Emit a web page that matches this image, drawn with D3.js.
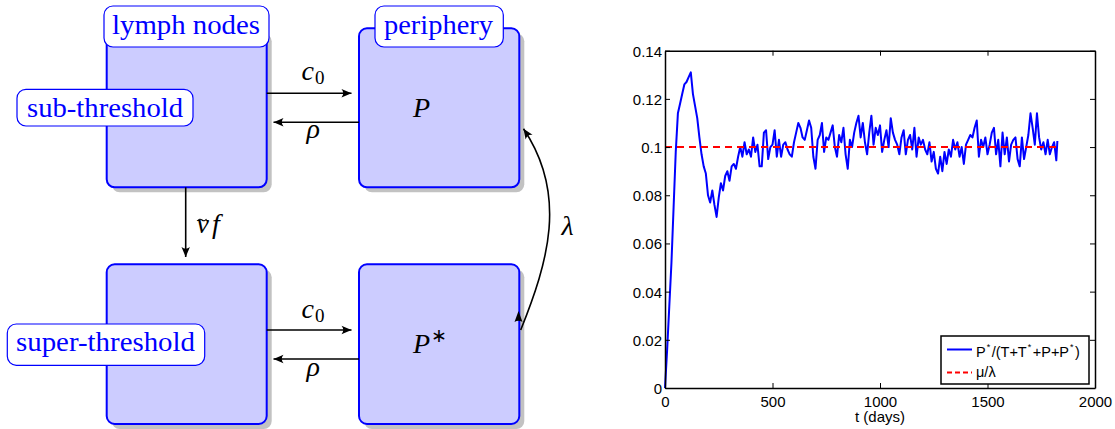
<!DOCTYPE html>
<html>
<head>
<meta charset="utf-8">
<script src="https://cdn.jsdelivr.net/npm/d3@7"></script>
<style>
  body { margin: 0; background: #fff; }
  svg { display: block; }
  .ser { font-family: 'Liberation Serif'; }
  .san { font-family: 'Liberation Sans'; }
</style>
</head>
<body>
<script>
// ---------------- DATA ----------------
const days = [0,10,20,30,40,50,60,70,80,90,100,110,120,130,140,150,160,170,180,190,
  200,210,220,230,240,250,260,270,280,290,300,310,320,330,340,350,360,370,380,390,
  400,410,420,430,440,450,460,470,480,490,500,510,520,530,540,550,560,570,580,590,
  600,610,620,630,640,650,660,670,680,690,700,710,720,730,740,750,760,770,780,790,
  800,810,820,830,840,850,860,870,880,890,900,910,920,930,940,950,960,970,980,990,
  1000,1010,1020,1030,1040,1050,1060,1070,1080,1090,1100,1110,1120,1130,1140,1150,1160,1170,1180,1190,
  1200,1210,1220,1230,1240,1250,1260,1270,1280,1290,1300,1310,1320,1330,1340,1350,1360,1370,1380,1390,
  1400,1410,1420,1430,1440,1450,1460,1470,1480,1490,1500,1510,1520,1530,1540,1550,1560,1570,1580,1590,
  1600,1610,1620,1630,1640,1650,1660,1670,1680,1690,1700,1710,1720,1730,1740,1750,1760,1770,1780,1790,
  1800,1810,1820,1825];
const ratio = [0,0.016,0.034,0.052,0.075,0.098,0.114,0.118,0.122,0.126,0.127,0.129,0.131,0.122,0.117,0.112,0.104,0.097,0.092,0.089,
  0.080,0.077,0.082,0.076,0.071,0.079,0.085,0.082,0.088,0.090,0.086,0.092,0.093,0.091,0.096,0.100,0.096,0.102,0.097,0.099,
  0.096,0.104,0.098,0.101,0.092,0.092,0.106,0.107,0.095,0.100,0.101,0.107,0.096,0.103,0.096,0.101,0.102,0.099,0.097,0.096,
  0.102,0.106,0.110,0.108,0.104,0.103,0.107,0.111,0.108,0.096,0.091,0.103,0.105,0.110,0.098,0.104,0.103,0.106,0.109,0.100,
  0.096,0.105,0.102,0.108,0.097,0.091,0.103,0.100,0.106,0.110,0.113,0.104,0.110,0.102,0.097,0.106,0.113,0.101,0.108,0.105,
  0.109,0.098,0.103,0.107,0.100,0.112,0.106,0.103,0.101,0.097,0.104,0.107,0.097,0.103,0.105,0.099,0.108,0.096,0.104,0.101,
  0.103,0.099,0.097,0.102,0.094,0.098,0.091,0.089,0.096,0.090,0.098,0.093,0.099,0.096,0.103,0.099,0.102,0.096,0.100,0.093,
  0.101,0.103,0.105,0.104,0.108,0.111,0.096,0.103,0.100,0.104,0.097,0.101,0.106,0.108,0.097,0.103,0.092,0.106,0.097,0.104,
  0.094,0.101,0.103,0.104,0.095,0.092,0.104,0.095,0.100,0.105,0.114,0.108,0.101,0.114,0.104,0.099,0.102,0.097,0.103,0.097,
  0.100,0.102,0.0945,0.1025];
const muOverLambda = 0.1;
const refDays = [0, 1825];
const xTicks = [0, 500, 1000, 1500, 2000];
const xTickLabels = ["0", "500", "1000", "1500", "2000"];
const yTicks = [0, 0.02, 0.04, 0.06, 0.08, 0.1, 0.12, 0.14];
const yTickLabels = ["0", "0.02", "0.04", "0.06", "0.08", "0.1", "0.12", "0.14"];
const xLabel = "t (days)";
const regionLabels = ["lymph nodes", "periphery", "sub-threshold", "super-threshold"];

// ---------------- SVG ----------------
const svg = d3.select("body").append("svg").attr("width", 1115).attr("height", 429);
const serif = "'Liberation Serif'";
const tickFont = "'Liberation Sans'";

// ========== DIAGRAM ==========
const defs = svg.append("defs");
defs.append("marker").attr("id", "arr").attr("markerUnits", "userSpaceOnUse")
  .attr("viewBox", "-11 -6 12 12").attr("refX", 0).attr("refY", 0)
  .attr("markerWidth", 12).attr("markerHeight", 12).attr("orient", "auto")
  .append("path").attr("d", "M0,0 L-10,-4.2 Q-6.5,0 -10,4.2 Z").attr("fill", "#000");

const dg = svg.append("g");
const boxes = [
  {x: 106.7, y: 28.3, w: 160, h: 159},
  {x: 359, y: 28.3, w: 160.3, h: 159},
  {x: 106.7, y: 264.3, w: 160, h: 159.7},
  {x: 359, y: 264.3, w: 160.3, h: 159.7}
];
dg.selectAll("rect.shadow").data(boxes).join("rect").attr("class", "shadow")
  .attr("x", d => d.x + 5).attr("y", d => d.y + 5).attr("width", d => d.w).attr("height", d => d.h)
  .attr("rx", 8).attr("fill", "#c2c2c2");
dg.selectAll("rect.box").data(boxes).join("rect").attr("class", "box")
  .attr("x", d => d.x).attr("y", d => d.y).attr("width", d => d.w).attr("height", d => d.h)
  .attr("rx", 8).attr("fill", "#ccccff").attr("stroke", "#0000ff").attr("stroke-width", 2);

// straight arrows
const arrows = [
  [266.7, 93.3, 351.5, 93.3],
  [359, 122.3, 273.5, 122.3],
  [266.7, 330, 351.5, 330],
  [359, 359, 273.5, 359],
  [185.7, 187.3, 185.7, 257]
];
dg.selectAll("line.arrow").data(arrows).join("line").attr("class", "arrow")
  .attr("x1", d => d[0]).attr("y1", d => d[1]).attr("x2", d => d[2]).attr("y2", d => d[3])
  .attr("stroke", "#000").attr("stroke-width", 1.6).attr("marker-end", "url(#arr)");

// curved lambda arrow
dg.append("path").attr("d", "M520.7,330 C548,262 568,195 523.5,128.8")
  .attr("fill", "none").attr("stroke", "#000").attr("stroke-width", 1.6).attr("marker-end", "url(#arr)");
dg.append("path").attr("d", "M518.5,311 L522.5,322 Q518.5,319.5 514.5,322 Z").attr("fill", "#000");

// label boxes
const lblBoxes = [
  {x: 104, y: 6, w: 165, h: 41, text: regionLabels[0], tx: 112, ty: 34.3, tw: 148},
  {x: 375, y: 6, w: 128.3, h: 41, text: regionLabels[1], tx: 384, ty: 34.3, tw: 109},
  {x: 17, y: 89.3, w: 176, h: 36.7, text: regionLabels[2], tx: 27, ty: 116.7, tw: 156},
  {x: 7.3, y: 324, w: 197.4, h: 41.3, text: regionLabels[3], tx: 16, ty: 350.7, tw: 179}
];
dg.selectAll("rect.lbl").data(lblBoxes).join("rect").attr("class", "lbl")
  .attr("x", d => d.x).attr("y", d => d.y).attr("width", d => d.w).attr("height", d => d.h)
  .attr("rx", 9).attr("fill", "#fff").attr("stroke", "#0000ff").attr("stroke-width", 1.2);
dg.selectAll("text.lbl").data(lblBoxes).join("text").attr("class", "lbl ser")
  .attr("x", d => d.tx).attr("y", d => d.ty).attr("textLength", d => d.tw)
  .attr("lengthAdjust", "spacingAndGlyphs")
  .attr("font-family", "Liberation Serif").style("font-family", serif)
  .attr("font-size", 27).attr("fill", "#0000ff")
  .text(d => d.text);

// math labels
function mathText(x, y, parts) {
  const t = dg.append("text").attr("class", "ser").attr("x", x).attr("y", y)
    .attr("font-family", "Liberation Serif").style("font-family", serif).attr("fill", "#000");
  parts.forEach(p => {
    const s = t.append("tspan").text(p.t).attr("font-size", p.size || 28)
      .attr("font-style", p.italic === false ? "normal" : "italic");
    if (p.dy !== undefined) s.attr("dy", p.dy);
    if (p.dx !== undefined) s.attr("dx", p.dx);
  });
  return t;
}
mathText(301.5, 80, [{t: "c"}, {t: "0", italic: false, size: 19, dy: 3.5, dx: 1}]);
mathText(301.5, 318.3, [{t: "c"}, {t: "0", italic: false, size: 19, dy: 3.5, dx: 1}]);
mathText(306.5, 138, [{t: "ρ"}]);
mathText(306.5, 376, [{t: "ρ"}]);
mathText(413, 116.7, [{t: "P"}]);
mathText(413, 353.3, [{t: "P"}, {t: "∗", italic: false, size: 19, dy: -11, dx: 1}]);
mathText(196.5, 233.3, [{t: "ν"}, {t: "f", dx: 3}]);
// tilde over nu, drawn as a small wave
dg.append("path").attr("d", "M197.5,221 Q199.5,218 202,220 Q204.5,222 206.5,219")
  .attr("fill", "none").attr("stroke", "#000").attr("stroke-width", 1.1);
mathText(561.5, 235, [{t: "λ"}]);

// ========== CHART ==========
const x = d3.scaleLinear().domain([0, 2000]).range([665, 1095]);
const y = d3.scaleLinear().domain([0, 0.14]).range([388, 50.7]);
const cg = svg.append("g");

// series
cg.append("path").datum(days.map((d, i) => [d, ratio[i]]))
  .attr("fill", "none").attr("stroke", "#0000ff").attr("stroke-width", 2).attr("stroke-linejoin", "round")
  .attr("d", d3.line().x(d => x(d[0])).y(d => y(d[1])));
cg.append("path").datum(refDays.map(d => [d, muOverLambda]))
  .attr("fill", "none").attr("stroke", "#ff0000").attr("stroke-width", 2).attr("stroke-dasharray", "7,5")
  .attr("d", d3.line().x(d => x(d[0])).y(d => y(d[1])));

// axes
const axB = cg.append("g").attr("transform", "translate(0,388)")
  .call(d3.axisBottom(x).tickValues(xTicks).tickFormat((d, i) => xTickLabels[i]).tickSizeInner(-5).tickSizeOuter(0).tickPadding(8));
const axT = cg.append("g").attr("transform", "translate(0,50.7)")
  .call(d3.axisTop(x).tickValues(xTicks).tickFormat("").tickSizeInner(-5).tickSizeOuter(0));
const axL = cg.append("g").attr("transform", "translate(665,0)")
  .call(d3.axisLeft(y).tickValues(yTicks).tickFormat((d, i) => yTickLabels[i]).tickSizeInner(-5).tickSizeOuter(0).tickPadding(3));
const axR = cg.append("g").attr("transform", "translate(1095,0)")
  .call(d3.axisRight(y).tickValues(yTicks).tickFormat("").tickSizeInner(-5).tickSizeOuter(0));
[axB, axT, axL, axR].forEach(a => {
  a.attr("font-family", "Liberation Sans");
  a.select(".domain").attr("stroke", "#000").attr("stroke-width", 1.5);
  a.selectAll(".tick line").attr("stroke", "#000").attr("stroke-width", 1);
  a.selectAll("text").attr("class", "san").style("font-family", tickFont).attr("font-size", 15).attr("fill", "#000");
});
axL.selectAll("text").attr("dy", "0.36em");

// x label
cg.append("text").attr("class", "san").attr("x", 880).attr("y", 422).attr("text-anchor", "middle")
  .style("font-family", tickFont).attr("font-size", 15).text(xLabel);

// legend
const lg = cg.append("g");
lg.append("rect").attr("x", 941).attr("y", 336).attr("width", 148).attr("height", 48)
  .attr("fill", "#fff").attr("stroke", "#000").attr("stroke-width", 1.5);
lg.append("line").attr("x1", 947).attr("x2", 972).attr("y1", 349.5).attr("y2", 349.5)
  .attr("stroke", "#0000ff").attr("stroke-width", 2);
lg.append("line").attr("x1", 947).attr("x2", 972).attr("y1", 372.5).attr("y2", 372.5)
  .attr("stroke", "#ff0000").attr("stroke-width", 2).attr("stroke-dasharray", "5,3");
const t1 = lg.append("text").attr("class", "san").attr("x", 976).attr("y", 357).style("font-family", tickFont).attr("font-size", 14.5);
[["P", 0], ["*", -1], ["/(T+T", 0], ["*", -1], ["+P+P", 0], ["*", -1], [")", 0]].forEach(([s, sup], i, arr) => {
  const prev = i > 0 ? arr[i - 1][1] : 0;
  const ts = t1.append("tspan").text(s);
  if (sup) { ts.attr("font-size", 9).attr("dy", -7).attr("dx", 1); }
  else if (prev) { ts.attr("dy", 7).attr("dx", 1.5); }
});
lg.append("text").attr("class", "san").attr("x", 976).attr("y", 377).style("font-family", tickFont).attr("font-size", 14.5).text("μ/λ");
</script>
</body>
</html>
